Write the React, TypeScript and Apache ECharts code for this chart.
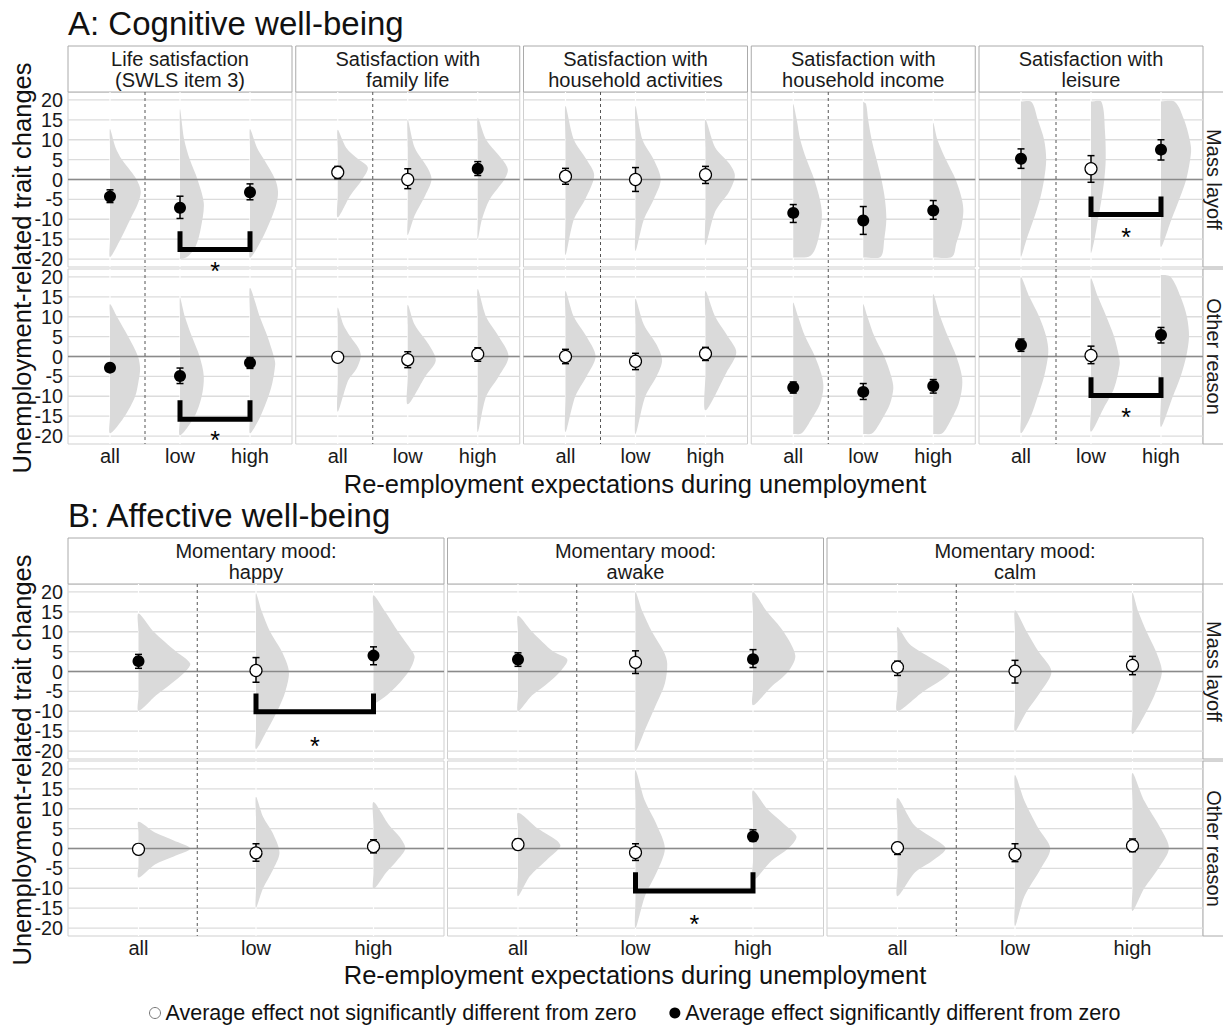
import React, { useEffect, useRef } from "react";
import * as echarts from "echarts";

// ---------------- DATA ----------------
const CATS = ["all", "low", "high"];
const Y_TICKS = [-20, -15, -10, -5, 0, 5, 10, 15, 20];
const ROW_LABELS = ["Mass layoff", "Other reason"];
const A_PANELS = [
  "Life satisfaction\n(SWLS item 3)",
  "Satisfaction with\nfamily life",
  "Satisfaction with\nhousehold activities",
  "Satisfaction with\nhousehold income",
  "Satisfaction with\nleisure",
];
const B_PANELS = ["Momentary mood:\nhappy", "Momentary mood:\nawake", "Momentary mood:\ncalm"];
const LEGEND_NOT = "Average effect not significantly different from zero";
const LEGEND_SIG = "Average effect significantly different from zero";
const TITLE_A = "A: Cognitive well-being";
const TITLE_B = "B: Affective well-being";
const X_TITLE = "Re-employment expectations during unemployment";
const Y_TITLE = "Unemployment-related trait changes";

// Section A, Mass layoff  [panel][all, low, high]
const A_MASS_MEAN = [[-4.3, -7.1, -3.2], [1.8, 0, 2.7], [0.8, 0, 1.2], [-8.4, -10.3, -7.8], [5.2, 2.7, 7.5]];
const A_MASS_LO = [[-5.8, -9.8, -5.1], [0.2, -2.3, 1.0], [-1.2, -3.0, -1.0], [-10.8, -13.8, -10.0], [2.8, -0.7, 4.9]];
const A_MASS_HI = [[-2.6, -4.2, -1.1], [3.3, 2.7, 4.5], [2.8, 3.0, 3.3], [-6.3, -6.8, -5.3], [7.7, 6.0, 10.0]];
const A_MASS_SIG = [[1, 1, 1], [0, 0, 1], [0, 0, 0], [1, 1, 1], [1, 0, 1]];
// Section A, Other reason
const A_OTHER_MEAN = [[-2.8, -4.9, -1.6], [-0.2, -0.8, 0.6], [0, -1.2, 0.7], [-7.8, -8.9, -7.4], [2.9, 0.25, 5.4]];
const A_OTHER_LO = [[-3.7, -6.8, -3.0], [-1.2, -2.8, -1.2], [-1.8, -3.3, -1.0], [-9.2, -10.8, -9.2], [1.3, -1.8, 3.4]];
const A_OTHER_HI = [[-2.0, -2.9, -0.3], [0.8, 1.2, 2.2], [1.8, 0.8, 2.3], [-6.4, -6.8, -5.8], [4.4, 2.6, 7.3]];
const A_OTHER_SIG = [[1, 1, 1], [0, 0, 0], [0, 0, 0], [1, 1, 1], [1, 0, 1]];
// Section B, Mass layoff
const B_MASS_MEAN = [[2.6, 0.25, 4.0], [3.0, 2.3, 3.1], [1.1, 0.1, 1.5]];
const B_MASS_LO = [[0.8, -2.7, 1.7], [1.3, -0.5, 1.0], [-1.0, -2.9, -0.8]];
const B_MASS_HI = [[4.3, 3.5, 6.2], [4.7, 5.2, 5.5], [2.6, 2.8, 3.8]];
const B_MASS_SIG = [[1, 0, 1], [1, 0, 1], [0, 0, 0]];
// Section B, Other reason
const B_OTHER_MEAN = [[-0.2, -1.1, 0.5], [1.0, -1.0, 3.0], [0.2, -1.5, 0.7]];
const B_OTHER_LO = [[-1.5, -3.2, -1.1], [-0.3, -3.0, 1.8], [-1.5, -3.3, -0.8]];
const B_OTHER_HI = [[1.0, 1.2, 2.2], [2.4, 1.2, 4.7], [1.5, 1.2, 2.4]];
const B_OTHER_SIG = [[0, 0, 0], [0, 0, 1], [0, 0, 0]];

// Half-violin outlines: [value, half-width in category units], top to bottom
const A_MASS_VIOLIN = [
  [
    [[12.7, 0], [8, 0.08], [5, 0.17], [2, 0.3], [0, 0.38], [-3, 0.44], [-6, 0.4], [-10, 0.29], [-15, 0.15], [-19.5, 0]],
    [[17.7, 0], [10, 0.06], [5, 0.14], [0, 0.25], [-6, 0.34], [-12, 0.3], [-17, 0.22], [-19.5, 0.1], [-20, 0]],
    [[12.7, 0], [8, 0.1], [5, 0.2], [0, 0.36], [-3, 0.4], [-6, 0.38], [-10, 0.3], [-15, 0.17], [-19.7, 0]],
  ],
  [
    [[12.5, 0], [8, 0.12], [5, 0.3], [3, 0.43], [0, 0.35], [-4, 0.18], [-9.5, 0]],
    [[15, 0], [8, 0.1], [3, 0.28], [0, 0.34], [-4, 0.25], [-9, 0.1], [-14, 0]],
    [[15.5, 0], [10, 0.12], [5, 0.35], [2.5, 0.43], [0, 0.38], [-5, 0.17], [-10, 0.06], [-15, 0]],
  ],
  [
    [[18.5, 0], [10, 0.12], [5, 0.3], [1, 0.41], [-5, 0.28], [-10, 0.12], [-19, 0]],
    [[18.5, 0], [10, 0.1], [5, 0.26], [0, 0.36], [-5, 0.26], [-10, 0.12], [-18, 0]],
    [[15, 0], [8, 0.14], [4, 0.34], [1, 0.42], [-3, 0.34], [-8, 0.14], [-16.5, 0]],
  ],
  [
    [[19, 0], [15, 0.05], [10, 0.1], [5, 0.19], [0, 0.3], [-5, 0.38], [-9, 0.41], [-14, 0.37], [-18, 0.3], [-19.4, 0.22], [-19.6, 0]],
    [[19.5, 0], [19, 0.04], [15, 0.07], [10, 0.12], [5, 0.19], [0, 0.26], [-5, 0.31], [-10, 0.33], [-15, 0.3], [-19.4, 0.25], [-19.6, 0]],
    [[14.3, 0], [10, 0.06], [5, 0.18], [0, 0.32], [-5, 0.41], [-8, 0.43], [-12, 0.4], [-16, 0.33], [-19.4, 0.27], [-19.6, 0]],
  ],
  [
    [[19.6, 0], [19.5, 0.15], [15, 0.24], [10, 0.33], [5, 0.36], [0, 0.33], [-5, 0.27], [-10, 0.18], [-15, 0.08], [-19.4, 0]],
    [[19.6, 0], [19.5, 0.15], [12, 0.2], [5, 0.21], [0, 0.19], [-5, 0.15], [-10, 0.1], [-15, 0.05], [-18.5, 0]],
    [[19.6, 0], [19.5, 0.2], [15, 0.33], [10, 0.41], [7, 0.43], [0, 0.36], [-5, 0.26], [-10, 0.15], [-17, 0]],
  ],
];
const A_OTHER_VIOLIN = [
  [
    [[13.2, 0], [10, 0.1], [5, 0.26], [0, 0.4], [-3, 0.43], [-6, 0.41], [-10, 0.36], [-15, 0.21], [-19.3, 0]],
    [[14.8, 0], [10, 0.07], [5, 0.17], [0, 0.28], [-5, 0.34], [-10, 0.31], [-15, 0.21], [-19.8, 0]],
    [[17.3, 0], [10, 0.14], [5, 0.25], [0, 0.34], [-2, 0.36], [-8, 0.3], [-15, 0.15], [-19.3, 0]],
  ],
  [
    [[12.3, 0], [8, 0.08], [5, 0.18], [2, 0.3], [0, 0.33], [-3, 0.27], [-6, 0.15], [-13.9, 0]],
    [[13, 0], [8, 0.1], [3, 0.3], [-1, 0.4], [-5, 0.25], [-12, 0]],
    [[17, 0], [10, 0.12], [5, 0.3], [0, 0.44], [-5, 0.3], [-10, 0.12], [-19, 0]],
  ],
  [
    [[16.5, 0], [10, 0.12], [5, 0.3], [0, 0.43], [-5, 0.3], [-10, 0.14], [-19, 0]],
    [[14.5, 0], [8, 0.12], [3, 0.3], [-1, 0.38], [-5, 0.3], [-10, 0.14], [-19.5, 0]],
    [[16.5, 0], [10, 0.14], [5, 0.32], [1, 0.44], [-4, 0.3], [-13.5, 0]],
  ],
  [
    [[13.6, 0], [10, 0.07], [5, 0.17], [0, 0.31], [-5, 0.41], [-8, 0.43], [-12, 0.38], [-16, 0.25], [-19.3, 0.12], [-19.5, 0]],
    [[13.2, 0], [10, 0.06], [5, 0.16], [0, 0.3], [-5, 0.4], [-8, 0.43], [-12, 0.38], [-16, 0.26], [-19.3, 0.13], [-19.5, 0]],
    [[15.7, 0], [10, 0.1], [5, 0.21], [0, 0.33], [-5, 0.41], [-8, 0.41], [-12, 0.36], [-16, 0.25], [-19.3, 0.13], [-19.5, 0]],
  ],
  [
    [[20, 0], [15, 0.12], [10, 0.26], [5, 0.36], [1, 0.39], [-5, 0.33], [-10, 0.24], [-15, 0.14], [-19.3, 0]],
    [[19.7, 0], [15, 0.1], [10, 0.22], [5, 0.33], [0, 0.4], [-2, 0.41], [-8, 0.33], [-13, 0.18], [-18.9, 0]],
    [[20.5, 0], [20, 0.14], [15, 0.28], [10, 0.37], [5, 0.4], [0, 0.36], [-5, 0.28], [-10, 0.17], [-17.7, 0]],
  ],
];
const B_MASS_VIOLIN = [
  [
    [[14.6, 0], [10, 0.13], [5, 0.32], [2, 0.44], [0, 0.4], [-3, 0.28], [-6, 0.15], [-9.9, 0]],
    [[19.7, 0], [15, 0.05], [10, 0.12], [5, 0.22], [0, 0.28], [-5, 0.25], [-10, 0.18], [-15, 0.09], [-19.5, 0]],
    [[19.2, 0], [15, 0.1], [10, 0.21], [5, 0.33], [3.5, 0.35], [0, 0.3], [-5, 0.15], [-8, 0]],
  ],
  [
    [[14, 0], [10, 0.12], [5, 0.3], [3, 0.42], [0, 0.36], [-3, 0.25], [-6, 0.12], [-10, 0]],
    [[20, 0], [15, 0.06], [10, 0.14], [5, 0.24], [2, 0.27], [-3, 0.25], [-8, 0.18], [-14, 0.09], [-20, 0]],
    [[20, 0], [15, 0.12], [10, 0.26], [4, 0.36], [0, 0.3], [-4, 0.15], [-8.5, 0]],
  ],
  [
    [[11.2, 0], [7, 0.1], [4, 0.25], [1, 0.42], [0, 0.45], [-2, 0.38], [-5, 0.22], [-9.9, 0]],
    [[15.4, 0], [10, 0.1], [5, 0.2], [0, 0.31], [-5, 0.22], [-10, 0.1], [-15, 0]],
    [[19.8, 0], [15, 0.05], [10, 0.12], [5, 0.2], [0, 0.25], [-5, 0.2], [-10, 0.12], [-15.7, 0]],
  ],
];
const B_OTHER_VIOLIN = [
  [
    [[6.7, 0], [4, 0.14], [2, 0.3], [0, 0.44], [-2, 0.3], [-4, 0.14], [-7.3, 0]],
    [[13, 0], [8, 0.06], [4, 0.14], [-1, 0.2], [-5, 0.15], [-10, 0.06], [-14.9, 0]],
    [[11.7, 0], [6, 0.13], [3, 0.22], [0, 0.27], [-3, 0.2], [-6, 0.11], [-10.2, 0]],
  ],
  [
    [[9, 0], [5, 0.17], [2, 0.33], [0.5, 0.36], [-3, 0.24], [-7, 0.1], [-12, 0]],
    [[19.7, 0], [12, 0.08], [6, 0.18], [0, 0.25], [-6, 0.18], [-12, 0.08], [-20, 0]],
    [[14.6, 0], [10, 0.12], [6, 0.27], [3, 0.37], [0, 0.3], [-3, 0.16], [-8, 0]],
  ],
  [
    [[12.7, 0], [6, 0.14], [3, 0.28], [0, 0.41], [-3, 0.3], [-6, 0.15], [-12, 0]],
    [[18.5, 0], [12, 0.08], [5, 0.2], [0, 0.3], [-5, 0.22], [-12, 0.08], [-19.5, 0]],
    [[19, 0], [12, 0.1], [5, 0.24], [0, 0.31], [-5, 0.22], [-10, 0.1], [-15.7, 0]],
  ],
];

// Significance brackets: [row, panel, fromCat, toCat, armEnd, barValue, starValue]
const A_BRACKETS = [
  [0, 0, 2, 3, -13, -17.6, -21.8],
  [0, 4, 2, 3, -4.3, -8.8, -13.2],
  [1, 0, 2, 3, -11, -15.8, -19.8],
  [1, 4, 2, 3, -5.2, -9.8, -13.9],
];
const B_BRACKETS = [
  [0, 0, 2, 3, -5.5, -10.1, -17.5],
  [1, 1, 2, 3, -6, -10.7, -17.7],
];

// ---------------- LAYOUT / STYLE ----------------
const FONT = "'Liberation Sans', Arial, Helvetica, sans-serif";
const LAYOUT_A = {
  lefts: [68, 295.75, 523.5, 751.25, 979],
  width: 224,
  tops: [92, 269],
  height: 175,
  stripTop: 46,
  stripH: 46,
  title: 23,
  xTitle: 484,
  yTitle: 268,
};
const LAYOUT_B = {
  lefts: [68, 447.5, 827],
  width: 376,
  tops: [584, 761],
  height: 175,
  stripTop: 538,
  stripH: 46,
  title: 515,
  xTitle: 975,
  yTitle: 760,
};

function buildOption() {
  const grid: any[] = [];
  const xAxis: any[] = [];
  const yAxis: any[] = [];
  const series: any[] = [];
  const graphics: any[] = [];

  const addSection = (layout: any, panels: string[], rows: any[], brackets: number[][], title: string) => {
    graphics.push({
      type: "text",
      x: layout.lefts[0],
      y: layout.title,
      style: { text: title, fontSize: 33, fontFamily: FONT, fill: "#111", align: "left", verticalAlign: "middle" },
    });
    graphics.push({
      type: "text",
      x: 635,
      y: layout.xTitle,
      style: { text: X_TITLE, fontSize: 25.5, fontFamily: FONT, fill: "#111", align: "center", verticalAlign: "middle" },
    });
    graphics.push({
      type: "text",
      x: 22,
      y: layout.yTitle,
      rotation: Math.PI / 2,
      style: { text: Y_TITLE, fontSize: 25.5, fontFamily: FONT, fill: "#111", align: "center", verticalAlign: "middle" },
    });
    panels.forEach((name, c) => {
      graphics.push({
        type: "rect",
        shape: { x: layout.lefts[c], y: layout.stripTop, width: layout.width, height: layout.stripH },
        style: { fill: "#fff", stroke: "#aaaaaa", lineWidth: 1 },
      });
      graphics.push({
        type: "text",
        x: layout.lefts[c] + layout.width / 2,
        y: layout.stripTop + layout.stripH / 2 + 0.5,
        style: { text: name, fontSize: 20, lineHeight: 21, fontFamily: FONT, fill: "#1a1a1a", align: "center", verticalAlign: "middle" },
      });
    });
    rows.forEach((row: any, r: number) => {
      const top = layout.tops[r];
      graphics.push({
        type: "rect",
        shape: { x: layout.lefts[layout.lefts.length - 1] + layout.width, y: top, width: 30, height: layout.height },
        style: { fill: "#fff", stroke: "#aaaaaa", lineWidth: 1 },
      });
      graphics.push({
        type: "text",
        x: layout.lefts[layout.lefts.length - 1] + layout.width + 10.5,
        y: top + layout.height / 2,
        rotation: -Math.PI / 2,
        style: { text: ROW_LABELS[r], fontSize: 20, fontFamily: FONT, fill: "#1a1a1a", align: "center", verticalAlign: "middle" },
      });
      panels.forEach((_, c) => {
        const g = grid.length;
        const isLeft = c === 0;
        const isBottom = r === rows.length - 1;
        grid.push({
          left: layout.lefts[c],
          top,
          width: layout.width,
          height: layout.height,
          show: true,
          borderColor: "#cfcfcf",
          borderWidth: 1,
          backgroundColor: "#fff",
        });
        xAxis.push({
          gridIndex: g,
          type: "value",
          min: 0.4,
          max: 3.6,
          axisLine: { show: false },
          axisTick: { show: false },
          splitLine: { show: false },
          axisLabel: isBottom
            ? {
                show: true,
                customValues: [1, 2, 3],
                formatter: (v: number) => CATS[Math.round(v) - 1],
                fontSize: 20,
                fontFamily: FONT,
                color: "#1a1a1a",
                margin: 2,
                hideOverlap: false,
              }
            : { show: false },
        });
        yAxis.push({
          gridIndex: g,
          type: "value",
          min: -22,
          max: 22,
          axisLine: { show: false },
          axisTick: { show: false },
          splitLine: { show: false },
          axisLabel: isLeft
            ? {
                show: true,
                customValues: Y_TICKS,
                fontSize: 19.8,
                lineHeight: 15,
                fontFamily: FONT,
                color: "#1a1a1a",
                margin: 5,
                hideOverlap: false,
                showMinLabel: true,
                showMaxLabel: true,
              }
            : { show: false },
        });
        const base = { xAxisIndex: g, yAxisIndex: g, silent: true };
        // horizontal grid lines
        series.push({
          ...base,
          type: "custom",
          z: 1,
          data: Y_TICKS.map((v) => [0.4, v]),
          renderItem: (params: any, api: any) => {
            const cs = params.coordSys;
            const p = api.coord([api.value(0), api.value(1)]);
            return {
              type: "line",
              shape: { x1: cs.x, y1: p[1], x2: cs.x + cs.width, y2: p[1] },
              style: { stroke: "#dcdcdc", lineWidth: 1.3 },
            };
          },
        });
        // white vertical lines at categories
        series.push({
          ...base,
          type: "custom",
          z: 2,
          data: CATS.map((_c, i) => [i + 1, 0]),
          renderItem: (params: any, api: any) => {
            const cs = params.coordSys;
            const p = api.coord([api.value(0), 0]);
            return {
              type: "line",
              shape: { x1: p[0], y1: cs.y, x2: p[0], y2: cs.y + cs.height },
              style: { stroke: "#ffffff", lineWidth: 1.2 },
            };
          },
        });
        // half violins
        const prof = row.violin[c];
        series.push({
          ...base,
          type: "custom",
          z: 3,
          data: prof.map((_p: any, i: number) => [i + 1, 0]),
          renderItem: (params: any, api: any) => {
            const pr = prof[params.dataIndex];
            const x = api.value(0);
            const right = pr.map((d: number[]) => api.coord([x + d[1], d[0]]));
            const left = pr.slice(1, -1).reverse().map((d: number[]) => api.coord([x, d[0]]));
            return {
              type: "polygon",
              shape: { points: right.concat(left), smooth: 0.3 },
              style: { fill: "#dadada", stroke: null },
            };
          },
        });
        // zero line and dashed divider
        series.push({
          ...base,
          type: "custom",
          z: 4,
          data: [[1.5, 0]],
          renderItem: (params: any, api: any) => {
            const cs = params.coordSys;
            const p = api.coord([api.value(0), api.value(1)]);
            return {
              type: "group",
              children: [
                {
                  type: "line",
                  shape: { x1: cs.x, y1: p[1], x2: cs.x + cs.width, y2: p[1] },
                  style: { stroke: "#8a8a8a", lineWidth: 1.5 },
                },
                {
                  type: "line",
                  shape: { x1: p[0], y1: cs.y, x2: p[0], y2: cs.y + cs.height },
                  style: { stroke: "#555", lineWidth: 1, lineDash: [3, 3] },
                },
              ],
            };
          },
        });
        // error bars
        series.push({
          ...base,
          type: "custom",
          z: 5,
          data: CATS.map((_c, i) => [i + 1, row.lo[c][i], row.hi[c][i]]),
          renderItem: (_params: any, api: any) => {
            const x = api.value(0);
            const a = api.coord([x, api.value(1)]);
            const b = api.coord([x, api.value(2)]);
            const cw = 3.5;
            const st = { stroke: "#000", lineWidth: 1.5 };
            return {
              type: "group",
              children: [
                { type: "line", shape: { x1: a[0], y1: a[1], x2: b[0], y2: b[1] }, style: st },
                { type: "line", shape: { x1: a[0] - cw, y1: a[1], x2: a[0] + cw, y2: a[1] }, style: st },
                { type: "line", shape: { x1: b[0] - cw, y1: b[1], x2: b[0] + cw, y2: b[1] }, style: st },
              ],
            };
          },
        });
        // points
        const notData: number[][] = [];
        const sigData: number[][] = [];
        CATS.forEach((_c, i) => {
          (row.sig[c][i] ? sigData : notData).push([i + 1, row.mean[c][i]]);
        });
        series.push({
          ...base,
          type: "scatter",
          name: LEGEND_NOT,
          z: 6,
          symbol: "circle",
          symbolSize: 12,
          itemStyle: { color: "#fff", borderColor: "#000", borderWidth: 1.2, opacity: 1 },
          data: notData,
        });
        series.push({
          ...base,
          type: "scatter",
          name: LEGEND_SIG,
          z: 6,
          symbol: "circle",
          symbolSize: 12,
          itemStyle: { color: "#000", opacity: 1 },
          data: sigData,
        });
        // brackets
        const br = brackets.filter((b) => b[0] === r && b[1] === c).map((b) => b.slice(2));
        if (br.length) {
          series.push({
            ...base,
            type: "custom",
            z: 7,
            data: br,
            renderItem: (_params: any, api: any) => {
              const f = api.value(0);
              const t = api.value(1);
              const arm = api.value(2);
              const bar = api.value(3);
              const star = api.value(4);
              const p1 = api.coord([f, arm]);
              const p2 = api.coord([f, bar]);
              const p3 = api.coord([t, bar]);
              const p4 = api.coord([t, arm]);
              const s = api.coord([(f + t) / 2, star]);
              return {
                type: "group",
                children: [
                  {
                    type: "polyline",
                    shape: { points: [p1, p2, p3, p4] },
                    style: { stroke: "#000", lineWidth: 5, fill: null, lineJoin: "miter", lineCap: "butt" },
                  },
                  {
                    type: "text",
                    x: s[0],
                    y: s[1] + 5,
                    style: { text: "*", fontSize: 25, fontFamily: FONT, fill: "#000", align: "center", verticalAlign: "middle" },
                  },
                ],
              };
            },
          });
        }
      });
    });
  };

  addSection(
    LAYOUT_A,
    A_PANELS,
    [
      { mean: A_MASS_MEAN, lo: A_MASS_LO, hi: A_MASS_HI, sig: A_MASS_SIG, violin: A_MASS_VIOLIN },
      { mean: A_OTHER_MEAN, lo: A_OTHER_LO, hi: A_OTHER_HI, sig: A_OTHER_SIG, violin: A_OTHER_VIOLIN },
    ],
    A_BRACKETS,
    TITLE_A
  );
  addSection(
    LAYOUT_B,
    B_PANELS,
    [
      { mean: B_MASS_MEAN, lo: B_MASS_LO, hi: B_MASS_HI, sig: B_MASS_SIG, violin: B_MASS_VIOLIN },
      { mean: B_OTHER_MEAN, lo: B_OTHER_LO, hi: B_OTHER_HI, sig: B_OTHER_SIG, violin: B_OTHER_VIOLIN },
    ],
    B_BRACKETS,
    TITLE_B
  );

  return {
    animation: false,
    backgroundColor: "#fff",
    textStyle: { fontFamily: FONT },
    grid,
    xAxis,
    yAxis,
    series,
    legend: {
      left: 144,
      top: 997,
      itemWidth: 11,
      itemHeight: 11,
      itemGap: 33,
      icon: "circle",
      selectedMode: false,
      data: [
        { name: LEGEND_NOT, itemStyle: { color: "#fff", borderColor: "#777", borderWidth: 1 } },
        { name: LEGEND_SIG, itemStyle: { color: "#000", borderWidth: 0 } },
      ],
      textStyle: { fontSize: 21.5, color: "#111", fontFamily: FONT },
    },
    graphic: { elements: graphics },
  };
}

const App = () => {
  const ref = useRef<HTMLDivElement>(null);
  useEffect(() => {
    const chart = echarts.init(ref.current as HTMLDivElement, null, { renderer: "svg" });
    chart.setOption(buildOption() as any);
    return () => chart.dispose();
  }, []);
  return (
    <div
      ref={ref}
      style={{ position: "fixed", left: 0, top: 0, width: 1223, height: 1025, background: "#fff" }}
    />
  );
};

export default App;
